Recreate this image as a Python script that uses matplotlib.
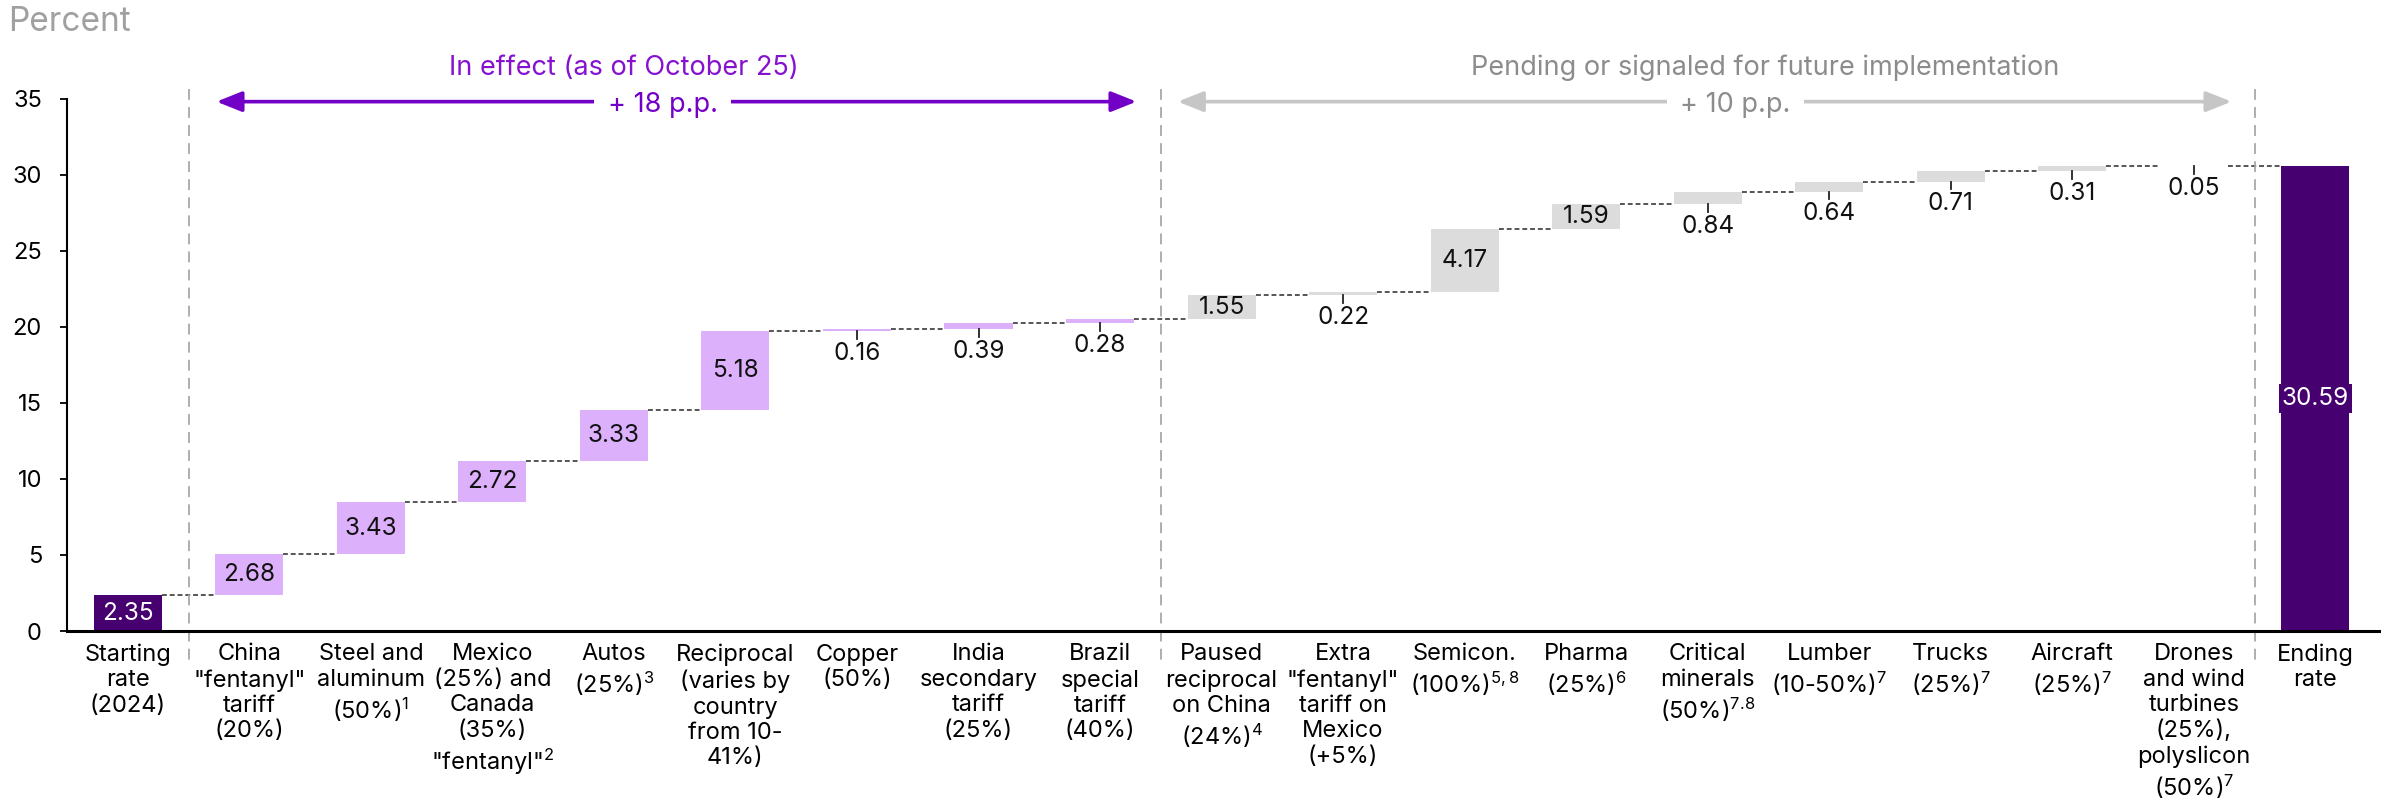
import matplotlib
matplotlib.use("Agg")
import matplotlib.pyplot as plt
import numpy as np

plt.rcParams['font.family'] = ['Inter', 'DejaVu Sans']
plt.rcParams['mathtext.default'] = 'regular'

# ---- data ----
categories = [
    "Starting\nrate\n(2024)",
    "China\n\"fentanyl\"\ntariff\n(20%)",
    "Steel and\naluminum\n(50%)$^{1}$",
    "Mexico\n(25%) and\nCanada\n(35%)\n\"fentanyl\"$^{2}$",
    "Autos\n(25%)$^{3}$",
    "Reciprocal\n(varies by\ncountry\nfrom 10-\n41%)",
    "Copper\n(50%)",
    "India\nsecondary\ntariff\n(25%)",
    "Brazil\nspecial\ntariff\n(40%)",
    "Paused\nreciprocal\non China\n(24%)$^{4}$",
    "Extra\n\"fentanyl\"\ntariff on\nMexico\n(+5%)",
    "Semicon.\n(100%)$^{5,8}$",
    "Pharma\n(25%)$^{6}$",
    "Critical\nminerals\n(50%)$^{7.8}$",
    "Lumber\n(10-50%)$^{7}$",
    "Trucks\n(25%)$^{7}$",
    "Aircraft\n(25%)$^{7}$",
    "Drones\nand wind\nturbines\n(25%),\npolyslicon\n(50%)$^{7}$",
    "Ending\nrate",
]
starting_rate = 2.35
in_effect = [2.68, 3.43, 2.72, 3.33, 5.18, 0.16, 0.39, 0.28]
pending = [1.55, 0.22, 4.17, 1.59, 0.84, 0.64, 0.71, 0.31, 0.05]
ending_rate = 30.59
in_effect_total = "+ 18 p.p."
pending_total = "+ 10 p.p."

# ---- colours ----
DARK = "#47006F"
LIGHT = "#DDB0FC"
GREY_BAR = "#DCDCDC"
ARROW_PURPLE = "#7300C6"
TITLE_PURPLE = "#8612D0"
ARROW_GREY = "#C6C6C6"
TEXT_GREY = "#8C8C8C"

W, H = 2381, 809
fig = plt.figure(figsize=(W / 100, H / 100), dpi=100)
ax = fig.add_axes([67 / W, (H - 631) / H, 1 - 67 / W, (631 - 98.6) / H])

n = len(categories)
x = np.arange(n)
increments = in_effect + pending
heights = [starting_rate] + increments + [ending_rate]
bottoms = [0.0]
level = starting_rate
for v in increments:
    bottoms.append(level)
    level += v
bottoms.append(0.0)
colors = [DARK] + [LIGHT] * len(in_effect) + [GREY_BAR] * len(pending) + [DARK]

bw = 0.56
ax.bar(x, heights, bottom=bottoms, width=bw, color=colors, zorder=2)

# dashed connectors between consecutive bars
tops = [b + h for b, h in zip(bottoms, heights)]
for i in range(n - 1):
    ax.plot([x[i] + bw / 2, x[i + 1] - bw / 2], [tops[i], tops[i]],
            color="#555555", lw=1.4, ls=(0, (2.5, 1.5)), zorder=1)

# value labels
FS = 17.5
LFS = 17
TFS = 19.5
for i in range(n):
    v = heights[i]
    b = bottoms[i]
    if i == 0:
        ax.text(x[i], b + v / 2, f"{v:.2f}", ha="center", va="center",
                color="white", fontsize=FS, zorder=3)
    elif i == n - 1:
        ax.text(x[i], v / 2, f"{v:.2f}", ha="center", va="center",
                color="white", fontsize=FS, zorder=3,
                bbox=dict(boxstyle="square,pad=0.12", fc=DARK, ec="none"))
    elif v >= 1.0:
        ax.text(x[i], b + v / 2, f"{v:.2f}", ha="center", va="center",
                color="#111111", fontsize=FS, zorder=3)
    else:
        ax.plot([x[i], x[i]], [b, b - 0.5], color="#222222", lw=1.3, zorder=3)
        ax.text(x[i], b - 1.45, f"{v:.2f}", ha="center", va="center",
                color="#111111", fontsize=FS, zorder=3)

# section dividers
for xd in (0.5, 8.5, 17.5):
    ax.plot([xd, xd], [35.6, -2.3], color="#A8A8A8", lw=1.3,
            ls=(0, (6, 4)), clip_on=False, zorder=1)

# section arrows and titles
def span_arrow(x0, x1, y, color, lw):
    ax.annotate("", xy=(x1, y), xytext=(x0, y), annotation_clip=False,
                arrowprops=dict(arrowstyle="<|-|>,head_length=0.7,head_width=0.28",
                                color=color, lw=lw, mutation_scale=22,
                                shrinkA=0, shrinkB=0))

span_arrow(0.73, 8.3, 34.8, ARROW_PURPLE, 2.6)
ax.text(4.4, 34.6, in_effect_total, ha="center", va="center", color=ARROW_PURPLE,
        fontsize=TFS, clip_on=False,
        bbox=dict(boxstyle="square,pad=0.5", fc="white", ec="none"))
ax.text(4.08, 37.0, "In effect (as of October 25)", ha="center", va="center",
        color=TITLE_PURPLE, fontsize=TFS, clip_on=False)

span_arrow(8.64, 17.31, 34.8, ARROW_GREY, 2.6)
ax.text(13.23, 34.6, pending_total, ha="center", va="center", color=TEXT_GREY,
        fontsize=TFS, clip_on=False,
        bbox=dict(boxstyle="square,pad=0.5", fc="white", ec="none"))
ax.text(13.47, 37.0, "Pending or signaled for future implementation",
        ha="center", va="center", color=TEXT_GREY, fontsize=TFS, clip_on=False)

fig.text(8 / W, 1 - 22 / H, "Percent", ha="left", va="center",
         color="#A0A0A0", fontsize=24)

# axes styling
ax.set_xlim(-0.5, 18.54)
ax.set_ylim(0, 35)
ax.set_yticks(np.arange(0, 36, 5))
ax.set_xticks(x)
ax.set_xticklabels(categories, fontsize=LFS, linespacing=1.2, va="top")
ax.tick_params(axis="x", length=0, pad=9)
ax.tick_params(axis="y", length=5, width=1.3, pad=13, labelsize=17)
for s in ("top", "right"):
    ax.spines[s].set_visible(False)
ax.spines["left"].set_linewidth(1.5)
ax.spines["bottom"].set_linewidth(2.2)
ax.spines["bottom"].set_zorder(4)

fig.savefig("out.png", dpi=100)
